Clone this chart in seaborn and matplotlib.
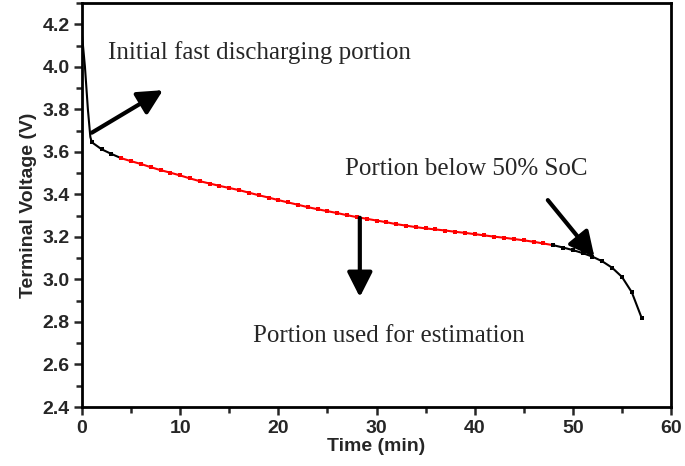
import matplotlib
matplotlib.use('Agg')
import matplotlib.pyplot as plt
import seaborn as sns
import pandas as pd
from matplotlib.ticker import MultipleLocator

# Valores (tempo em min, tensão em V)
tempo_inicio = [0, 0.3, 0.6, 0.85, 1, 2, 3, 4]
tensao_inicio = [4.15, 4.00, 3.80, 3.67, 3.645, 3.612, 3.590, 3.570]

tempo_estimacao = list(range(4, 49))
tensao_estimacao = [3.570, 3.556, 3.543, 3.528, 3.514, 3.502, 3.489, 3.475, 3.462,
                    3.451, 3.440, 3.430, 3.420, 3.408, 3.396, 3.385, 3.373, 3.362,
                    3.351, 3.340, 3.330, 3.321, 3.312, 3.302, 3.293, 3.285, 3.277,
                    3.269, 3.260, 3.253, 3.246, 3.240, 3.235, 3.230, 3.224, 3.219,
                    3.213, 3.207, 3.201, 3.196, 3.190, 3.184, 3.177, 3.169, 3.161]

tempo_final = [48, 49, 50, 51, 52, 53, 54, 55, 56, 57]
tensao_final = [3.161, 3.150, 3.138, 3.124, 3.107, 3.085, 3.055, 3.012, 2.940, 2.820]

df_inicio = pd.DataFrame({'Tempo': tempo_inicio, 'Tensao': tensao_inicio})
df_estimacao = pd.DataFrame({'Tempo': tempo_estimacao, 'Tensao': tensao_estimacao})
df_final = pd.DataFrame({'Tempo': tempo_final, 'Tensao': tensao_final})

sns.set_style('ticks')
plt.rcParams['font.family'] = ['Liberation Sans', 'DejaVu Sans']

fig = plt.figure(figsize=(6.85, 4.66), dpi=100)
ax = fig.add_axes([0.1197, 0.1266, 0.8599, 0.867])

sns.lineplot(data=df_inicio, x='Tempo', y='Tensao', color='black', lw=1.5,
             marker='s', markersize=2.5, markeredgewidth=0, markevery=[4, 5, 6], ax=ax)
sns.lineplot(data=df_estimacao, x='Tempo', y='Tensao', color='red', lw=1.5,
             marker='s', markersize=3.2, markeredgewidth=0, ax=ax)
sns.lineplot(data=df_final, x='Tempo', y='Tensao', color='black', lw=1.5,
             marker='s', markersize=2.5, markeredgewidth=0, ax=ax)

ax.set_xlim(0, 60)
ax.set_ylim(2.4, 4.3)
ax.xaxis.set_major_locator(MultipleLocator(10))
ax.xaxis.set_minor_locator(MultipleLocator(5))
ax.yaxis.set_major_locator(MultipleLocator(0.2))
ax.yaxis.set_minor_locator(MultipleLocator(0.1))
ax.yaxis.set_major_formatter(matplotlib.ticker.FormatStrFormatter('%.1f'))

for s in ax.spines.values():
    s.set_linewidth(2)
    s.set_color('black')
ax.tick_params(which='major', direction='out', length=6, width=1.8, labelsize=14, pad=3)
ax.tick_params(which='minor', direction='out', length=4, width=1.8)
for lab in ax.get_xticklabels() + ax.get_yticklabels():
    lab.set_fontweight('bold')

ax.set_xlabel('Time (min)', fontsize=14, fontweight='bold', labelpad=1)
ax.set_ylabel('Terminal Voltage (V)', fontsize=14, fontweight='bold', labelpad=4)

# Textos em fonte serifada
serif = ['Liberation Serif', 'DejaVu Serif']
ax.text(2.65, 4.035, 'Initial fast discharging portion', family=serif, fontsize=18, va='baseline')
ax.text(26.8, 3.49, 'Portion below 50% SoC', family=serif, fontsize=18, va='baseline')
ax.text(17.4, 2.707, 'Portion used for estimation', family=serif, fontsize=18, va='baseline')

# Setas
seta = dict(arrowstyle='-|>,head_length=0.75,head_width=0.38', lw=3, color='black',
            shrinkA=0, shrinkB=0, mutation_scale=20)
ax.annotate('', xy=(8.25, 3.89), xytext=(1.0, 3.69), arrowprops=seta)
ax.annotate('', xy=(28.3, 2.917), xytext=(28.3, 3.29), arrowprops=seta)
ax.annotate('', xy=(52.2, 3.105), xytext=(47.45, 3.373), arrowprops=seta)

plt.savefig('out.png', dpi=100)
